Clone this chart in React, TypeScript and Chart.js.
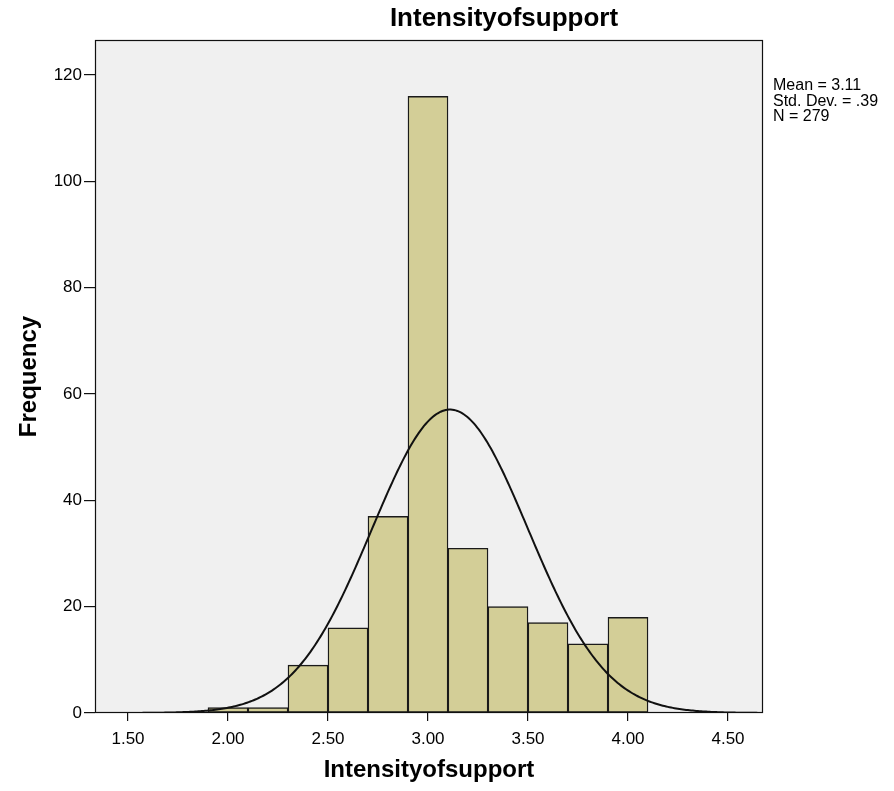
import React, { useEffect, useRef } from "react";
import { Chart, registerables } from "chart.js";

Chart.register(...registerables);

// Histogram bins (lower edges), common bin width and counts
const binStarts = [1.9, 2.1, 2.3, 2.5, 2.7, 2.9, 3.1, 3.3, 3.5, 3.7, 3.9];
const binWidth = 0.2;
const frequencies = [1, 1, 9, 16, 37, 116, 31, 20, 17, 13, 18];

// Axis ticks
const xTickValues = [1.5, 2, 2.5, 3, 3.5, 4, 4.5];
const yTickValues = [0, 20, 40, 60, 80, 100, 120];

// Summary statistics used for the fitted normal curve
const mean = 3.11;
const stdDev = 0.39;
const sampleSize = 279;
const statLines = ["Mean = 3.11", "Std. Dev. = .39", "N = 279"];

const titleText = "Intensityofsupport";
const xAxisTitle = "Intensityofsupport";
const yAxisTitle = "Frequency";

const X_MIN = 1.335;
const X_MAX = 4.675;
const Y_MAX = 126.6;

const FONT = "'Liberation Sans', Arial, Helvetica, sans-serif";

// Normal density scaled to counts per bin
function normalCurve() {
  const pts: { x: number; y: number }[] = [];
  const scale = (sampleSize * binWidth) / (stdDev * Math.sqrt(2 * Math.PI));
  const steps = 400;
  for (let i = 0; i <= steps; i++) {
    const x = X_MIN + ((X_MAX - X_MIN) * i) / steps;
    const z = (x - mean) / stdDev;
    pts.push({ x, y: scale * Math.exp(-0.5 * z * z) });
  }
  return pts;
}

const framePlugin = {
  id: "spssFrame",
  beforeDraw(chart: any) {
    const { ctx, chartArea, width, height } = chart;
    ctx.save();
    ctx.fillStyle = "#ffffff";
    ctx.fillRect(0, 0, width, height);
    ctx.fillStyle = "#f0f0f0";
    ctx.fillRect(chartArea.left, chartArea.top, chartArea.right - chartArea.left, chartArea.bottom - chartArea.top);
    ctx.restore();
  },
  afterDraw(chart: any) {
    const { ctx, chartArea } = chart;
    ctx.save();
    ctx.strokeStyle = "#111";
    ctx.lineWidth = 1.2;
    ctx.strokeRect(
      chartArea.left + 0.5,
      chartArea.top + 0.5,
      chartArea.right - chartArea.left - 1,
      chartArea.bottom - chartArea.top - 1
    );
    // chart title
    ctx.fillStyle = "#000";
    ctx.font = `bold 26px ${FONT}`;
    ctx.textAlign = "center";
    ctx.textBaseline = "middle";
    ctx.fillText(titleText, 504, 19);
    // statistics block
    ctx.font = `16px ${FONT}`;
    ctx.textAlign = "left";
    statLines.forEach((line, i) => {
      ctx.fillText(line, chartArea.right + 10, 86 + i * 15.5);
    });
    ctx.restore();
  },
};

export default function App() {
  const canvasRef = useRef<HTMLCanvasElement | null>(null);

  useEffect(() => {
    document.body.style.margin = "0";
    const canvas = canvasRef.current;
    if (!canvas) return;

    const barData = binStarts.map((s, i) => ({ x: s + binWidth / 2, y: frequencies[i] }));

    const chart = new Chart(canvas, {
      type: "bar",
      data: {
        datasets: [
          {
            type: "line",
            data: normalCurve(),
            borderColor: "#111",
            borderWidth: 2,
            pointRadius: 0,
            tension: 0,
            fill: false,
            order: 0,
          } as any,
          {
            type: "bar",
            data: barData,
            backgroundColor: "#d3ce97",
            borderColor: "#1a1a1a",
            borderWidth: 1.4,
            borderSkipped: false,
            barPercentage: 1,
            categoryPercentage: 1,
            grouped: false,
            order: 1,
          } as any,
        ],
      },
      options: {
        animation: false,
        responsive: true,
        maintainAspectRatio: false,
        layout: { padding: { top: 40, right: 131, bottom: 0, left: 0 } },
        plugins: {
          legend: { display: false },
          tooltip: { enabled: false },
          title: { display: false },
        },
        scales: {
          x: {
            type: "linear",
            min: X_MIN,
            max: X_MAX,
            offset: false,
            afterBuildTicks: (scale: any) => {
              scale.ticks = xTickValues.map((v) => ({ value: v }));
            },
            afterFit: (scale: any) => {
              scale.height = 78;
            },
            grid: {
              display: true,
              drawOnChartArea: false,
              drawTicks: true,
              tickLength: 8,
              color: "#111",
              lineWidth: 1.2,
              offset: false,
            },
            border: { display: false },
            ticks: {
              autoSkip: false,
              maxRotation: 0,
              padding: 8,
              color: "#000",
              font: { family: FONT, size: 17 },
              callback: (v: any) => Number(v).toFixed(2),
            },
            title: {
              display: true,
              text: xAxisTitle,
              color: "#000",
              font: { family: FONT, size: 24, weight: "bold" },
              padding: { top: 0, bottom: 6 },
            },
          },
          y: {
            type: "linear",
            min: 0,
            max: Y_MAX,
            afterBuildTicks: (scale: any) => {
              scale.ticks = yTickValues.map((v) => ({ value: v }));
            },
            afterFit: (scale: any) => {
              scale.width = 95;
            },
            grid: {
              display: true,
              drawOnChartArea: false,
              drawTicks: true,
              tickLength: 11,
              color: "#111",
              lineWidth: 1.2,
            },
            border: { display: false },
            ticks: {
              padding: 2,
              color: "#000",
              font: { family: FONT, size: 17 },
            },
            title: {
              display: true,
              text: yAxisTitle,
              color: "#000",
              font: { family: FONT, size: 24, weight: "bold" },
              padding: { top: 15, bottom: 0 },
            },
          },
        },
      },
      plugins: [framePlugin],
    });

    return () => chart.destroy();
  }, []);

  return (
    <div style={{ position: "relative", width: 894, height: 791 }}>
      <canvas ref={canvasRef} />
    </div>
  );
}
